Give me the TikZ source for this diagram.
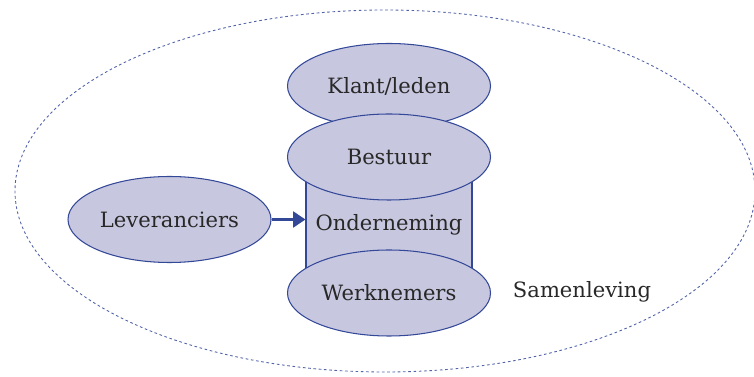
\documentclass[tikz,border=0pt]{standalone}
\usepackage{fontspec}
\setmainfont{DejaVu Serif}
\usepackage{xcolor}
\usepackage{tikz}
\usetikzlibrary{shapes.geometric,arrows.meta}
\definecolor{lila}{RGB}{199,199,224}
\definecolor{rand}{RGB}{52,72,152}
\definecolor{tekst}{RGB}{40,40,40}
\tikzset{>=stealth,
  blob/.style={ellipse,draw=rand,fill=lila,line width=0.6pt,inner sep=0pt,
    minimum width=4.06cm,minimum height=1.7cm,text=tekst,font=\fontsize{12}{14}\selectfont},
  vat/.style={rectangle,draw=rand,fill=lila,line width=0.6pt,inner sep=0pt,
    minimum width=3.32cm,minimum height=1.8cm,text=tekst,font=\fontsize{12}{14}\selectfont},
  pijl/.style={line width=1.4pt,rand,-{Triangle[length=7pt,width=9pt]}}}

\begin{document}
\begin{tikzpicture}
          \useasboundingbox (0,0) rectangle (15.08,7.54);
          % Samenleving
          \draw[rand!85,line width=0.5pt,dash pattern=on 1.5pt off 1.5pt] (7.70,3.72) ellipse[x radius=7.40, y radius=3.62];
          \node[text=tekst,font=\fontsize{12}{14}\selectfont] at (11.64, 1.70) (s) {Samenleving};

          % Onderneming
          \node[vat] at (7.78, 3.04) (o) {Onderneming};
          \node[blob] at (7.78, 5.82) (k) {Klant/leden};
          \node[blob,minimum height=1.72cm] at (7.78, 4.40) (b) {Bestuur};
          \node[blob,minimum height=1.72cm] at (7.78, 1.68) (w) {Werknemers};

          % Leveranciers
          \node[blob,minimum height=1.72cm] at (3.39, 3.15) (l) {Leveranciers};
          \draw[pijl] (l.east)--(l.east -| o.west);
\end{tikzpicture}
\end{document}
